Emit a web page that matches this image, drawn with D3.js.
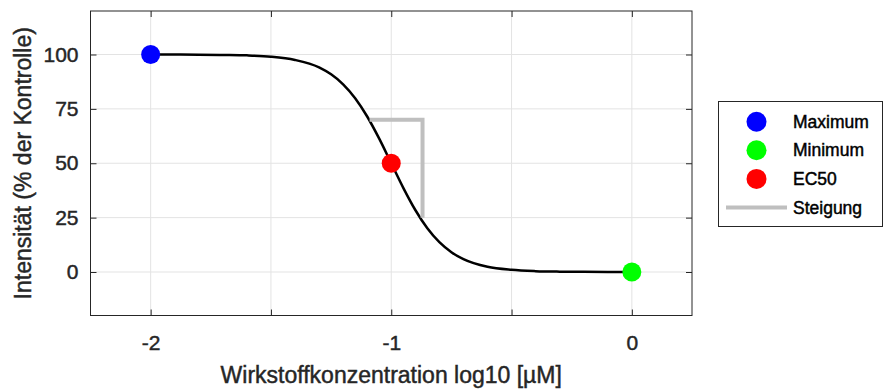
<!DOCTYPE html>
<html>
<head>
<meta charset="utf-8">
<script src="https://cdn.jsdelivr.net/npm/d3@7"></script>
<style>
  html, body { margin: 0; padding: 0; background: #fff; }
  svg { display: block; font-family: "Liberation Sans", Arial, Helvetica, sans-serif; }
  svg text { stroke-width: 0.45px; paint-order: stroke; }
</style>
</head>
<body>
<div id="chart"></div>
<script>
// Dose-response curve
const curveX = [-2.0, -1.9, -1.8, -1.7, -1.6, -1.5, -1.4, -1.3, -1.25, -1.2, -1.15, -1.1, -1.05, -1.0,
  -0.95, -0.9, -0.85, -0.8, -0.75, -0.7, -0.6, -0.5, -0.4, -0.3, -0.2, -0.1, 0.0];
const curveY = [100.0, 99.97, 99.94, 99.8, 99.6, 99.0, 97.5, 94.1, 90.9, 86.3, 79.9, 71.5, 61.3, 50.0,
  38.7, 28.5, 20.1, 13.7, 9.1, 5.9, 2.4, 1.0, 0.4, 0.16, 0.06, 0.03, 0.01];

// Marked points
const pointNames = ['Maximum', 'Minimum', 'EC50'];
const pointX = [-2, 0, -1];
const pointY = [100, 0, 50];

// Slope indicator (Steigung)
const slopeX = [-1.09, -0.87, -0.87];
const slopeY = [70, 70, 25];

// Axes
const xTicks = [-2, -1.5, -1, -0.5, 0];
const xTickLabels = ['-2', '', '-1', '', '0'];
const yTicks = [0, 25, 50, 75, 100];
const yTickLabels = ['0', '25', '50', '75', '100'];
const xLabel = 'Wirkstoffkonzentration log10 [\u00b5M]';
const yLabel = 'Intensit\u00e4t (% der Kontrolle)';
const legendNames = ['Maximum', 'Minimum', 'EC50', 'Steigung'];

const width = 884;
const height = 390;
const plot = { left: 90.5, right: 692, top: 11, bottom: 315.5 };
const pointColors = { Maximum: '#0000ff', Minimum: '#00ff00', EC50: '#ff0000' };
const slopeColor = '#bfbfbf';
const axisColor = '#262626';
const gridColor = '#e3e3e3';

const svg = d3.select('#chart').append('svg').attr('width', width).attr('height', height);

const x = d3.scaleLinear().domain([-2.25, 0.25]).range([plot.left, plot.right]);
const y = d3.scaleLinear().domain([-20, 120]).range([plot.bottom, plot.top]);

// Grid
const grid = svg.append('g').attr('class', 'grid');
grid.selectAll('.gx').data(xTicks).enter().append('line')
  .attr('x1', (d) => x(d)).attr('x2', (d) => x(d))
  .attr('y1', plot.top).attr('y2', plot.bottom)
  .attr('stroke', gridColor).attr('stroke-width', 1);
grid.selectAll('.gy').data(yTicks).enter().append('line')
  .attr('y1', (d) => y(d)).attr('y2', (d) => y(d))
  .attr('x1', plot.left).attr('x2', plot.right)
  .attr('stroke', gridColor).attr('stroke-width', 1);

// Axes with inward ticks on all four sides
const tickLen = 6;
const bottomAxis = d3.axisBottom(x).tickValues(xTicks).tickSizeInner(-tickLen).tickSizeOuter(0)
  .tickPadding(20).tickFormat((d, i) => xTickLabels[i]);
const topAxis = d3.axisTop(x).tickValues(xTicks).tickSizeInner(-tickLen).tickSizeOuter(0).tickFormat('');
const leftAxis = d3.axisLeft(y).tickValues(yTicks).tickSizeInner(-tickLen).tickSizeOuter(0)
  .tickPadding(12).tickFormat((d, i) => yTickLabels[i]);
const rightAxis = d3.axisRight(y).tickValues(yTicks).tickSizeInner(-tickLen).tickSizeOuter(0).tickFormat('');

function styleAxis(g) {
  g.select('.domain').remove();
  g.selectAll('.tick line').attr('stroke', axisColor).attr('stroke-width', 1);
  g.selectAll('.tick text').attr('fill', axisColor).attr('stroke', axisColor).style('font-size', '21px')
    .style('font-family', '"Liberation Sans", Arial, sans-serif');
}

svg.append('g').attr('transform', `translate(0,${plot.bottom})`).call(bottomAxis).call(styleAxis);
svg.append('g').attr('transform', `translate(0,${plot.top})`).call(topAxis).call(styleAxis);
svg.append('g').attr('transform', `translate(${plot.left},0)`).call(leftAxis).call(styleAxis);
svg.append('g').attr('transform', `translate(${plot.right},0)`).call(rightAxis).call(styleAxis);

// Box
svg.append('rect')
  .attr('x', plot.left).attr('y', plot.top)
  .attr('width', plot.right - plot.left).attr('height', plot.bottom - plot.top)
  .attr('fill', 'none').attr('stroke', axisColor).attr('stroke-width', 1);

// Curve
const curveData = curveX.map((d, i) => ({ x: d, y: curveY[i] }));
svg.append('path')
  .datum(curveData)
  .attr('fill', 'none')
  .attr('stroke', '#000')
  .attr('stroke-width', 2.5)
  .attr('d', d3.line().x((d) => x(d.x)).y((d) => y(d.y)).curve(d3.curveMonotoneX));

// Slope
const slopeData = slopeX.map((d, i) => ({ x: d, y: slopeY[i] }));
svg.append('path')
  .datum(slopeData)
  .attr('fill', 'none')
  .attr('stroke', slopeColor)
  .attr('stroke-width', 4)
  .attr('d', d3.line().x((d) => x(d.x)).y((d) => y(d.y)));

// Points
const pointData = pointNames.map((name, i) => ({ name, x: pointX[i], y: pointY[i] }));
svg.append('g').selectAll('circle').data(pointData).enter().append('circle')
  .attr('cx', (d) => x(d.x))
  .attr('cy', (d) => y(d.y))
  .attr('r', 9.5)
  .attr('fill', (d) => pointColors[d.name]);

// Axis labels
svg.append('text')
  .attr('x', (plot.left + plot.right) / 2)
  .attr('y', 383)
  .attr('text-anchor', 'middle')
  .attr('fill', axisColor).attr('stroke', axisColor)
  .style('font-size', '23px')
  .text(xLabel);

svg.append('text')
  .attr('transform', `translate(31,${(plot.top + plot.bottom) / 2}) rotate(-90)`)
  .attr('text-anchor', 'middle')
  .attr('fill', axisColor).attr('stroke', axisColor)
  .style('font-size', '23px')
  .text(yLabel);

// Legend
const legend = svg.append('g').attr('class', 'legend');
legend.append('rect')
  .attr('x', 718.5).attr('y', 101.5)
  .attr('width', 164).attr('height', 125)
  .attr('fill', '#fff').attr('stroke', axisColor).attr('stroke-width', 1);

const rowY = (i) => 121.7 + i * 28.6;
legendNames.forEach((name, i) => {
  if (pointColors[name]) {
    legend.append('circle')
      .attr('cx', 756.5).attr('cy', rowY(i)).attr('r', 10)
      .attr('fill', pointColors[name]);
  } else {
    legend.append('line')
      .attr('x1', 726).attr('x2', 787)
      .attr('y1', rowY(i)).attr('y2', rowY(i))
      .attr('stroke', slopeColor).attr('stroke-width', 4);
  }
  legend.append('text')
    .attr('x', 793).attr('y', rowY(i) + 6)
    .attr('fill', '#000').attr('stroke', '#000')
    .style('font-size', '17.5px')
    .text(name);
});
</script>
</body>
</html>
